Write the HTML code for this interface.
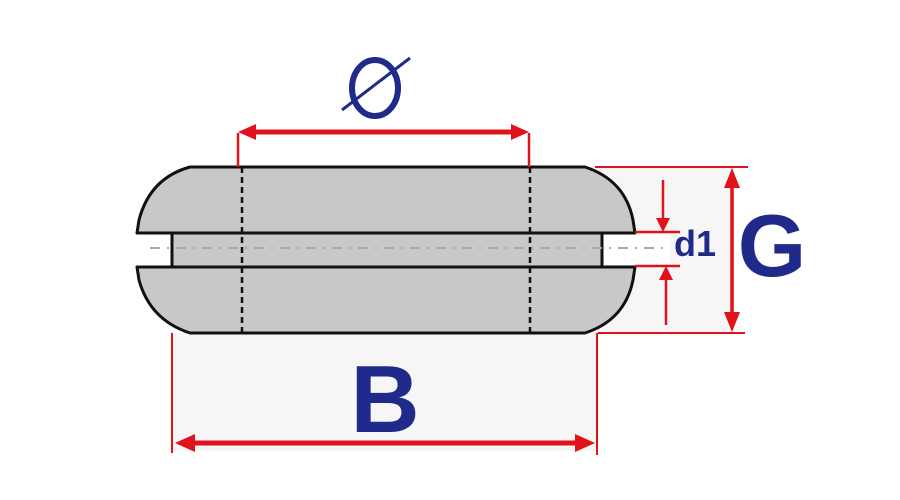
<!DOCTYPE html>
<html><head><meta charset="utf-8"><style>
html,body{margin:0;padding:0;background:#fff;}
svg{display:block;}
</style></head><body>
<svg width="900" height="500" viewBox="0 0 900 500" xmlns="http://www.w3.org/2000/svg">
<defs>
<marker id="ah" viewBox="0 0 10 10" refX="9" refY="5" markerWidth="6" markerHeight="6" orient="auto-start-reverse" markerUnits="userSpaceOnUse">
</marker>
</defs>
<!-- light gray backgrounds -->
<rect x="172" y="333" width="425" height="118" fill="#f6f6f6"/>
<rect x="597" y="167" width="138" height="166" fill="#f6f6f6"/>
<rect x="600" y="235" width="70" height="30" fill="#fff"/>
<!-- middle core -->
<rect x="172" y="233" width="430" height="34" fill="#c8c8c8"/>
<line x1="172" y1="233" x2="172" y2="267" stroke="#111" stroke-width="3"/>
<line x1="602" y1="233" x2="602" y2="267" stroke="#111" stroke-width="3"/>
<line x1="150" y1="248" x2="665" y2="248" stroke="#aaa" stroke-width="2" stroke-dasharray="10,7,2,7"/>
<!-- top piece -->
<path d="M190,167 L585,167 Q625,180 633,220 L635,233 L137,233 L139,220 Q150,178 190,167 Z" fill="#c8c8c8" stroke="#111" stroke-width="3" stroke-linejoin="round"/>
<!-- bottom piece -->
<path d="M137,267 L635,267 L633,280 Q625,320 585,333 L190,333 Q150,320 139,280 Z" fill="#c8c8c8" stroke="#111" stroke-width="3" stroke-linejoin="round"/>
<!-- dashed verticals -->
<line x1="242" y1="167" x2="242" y2="333" stroke="#111" stroke-width="2.5" stroke-dasharray="6,4"/>
<line x1="530" y1="167" x2="530" y2="333" stroke="#111" stroke-width="2.5" stroke-dasharray="6,4"/>
<!-- Ø dimension -->
<g stroke="#e0121c" fill="#e0121c">
<line x1="238" y1="133" x2="238" y2="167" stroke-width="2.5"/>
<line x1="529" y1="133" x2="529" y2="167" stroke-width="2.5"/>
<line x1="250" y1="132" x2="517" y2="132" stroke-width="5"/>
<polygon points="238,132 256,124 256,140" stroke="none"/>
<polygon points="529,132 511,124 511,140" stroke="none"/>
<!-- G dimension -->
<line x1="595" y1="167" x2="748" y2="167" stroke-width="2"/>
<line x1="598" y1="333" x2="745" y2="333" stroke-width="2"/>
<line x1="732" y1="180" x2="732" y2="320" stroke-width="3.5"/>
<polygon points="732,168 724,188 740,188" stroke="none"/>
<polygon points="732,332 724,312 740,312" stroke="none"/>
<!-- d1 -->
<line x1="635" y1="232" x2="680" y2="232" stroke-width="2.5"/>
<line x1="635" y1="266" x2="680" y2="266" stroke-width="2.5"/>
<line x1="663" y1="180" x2="663" y2="222" stroke-width="2.5"/>
<polygon points="663,232 656,218 670,218" stroke="none"/>
<line x1="666" y1="276" x2="666" y2="325" stroke-width="2.5"/>
<polygon points="666,266 659,280 673,280" stroke="none"/>
<!-- B dimension -->
<line x1="172" y1="333" x2="172" y2="453" stroke-width="2"/>
<line x1="597" y1="333" x2="597" y2="455" stroke-width="2"/>
<line x1="188" y1="443" x2="582" y2="443" stroke-width="5"/>
<polygon points="175,443 195,434 195,452" stroke="none"/>
<polygon points="595,443 575,434 575,452" stroke="none"/>
</g>
<!-- labels -->
<g fill="#1f2a8a" font-family="Liberation Sans, sans-serif" font-weight="bold">
<text x="385" y="432" font-size="96" text-anchor="middle">B</text>
<text x="772" y="276" font-size="88" text-anchor="middle">G</text>
<text x="695" y="256" font-size="36" text-anchor="middle">d1</text>
</g>
<ellipse cx="375" cy="88" rx="23" ry="28" fill="none" stroke="#1f2a8a" stroke-width="6"/>
<line x1="342" y1="110" x2="410" y2="58" stroke="#1f2a8a" stroke-width="3"/>
</svg>
</body></html>
